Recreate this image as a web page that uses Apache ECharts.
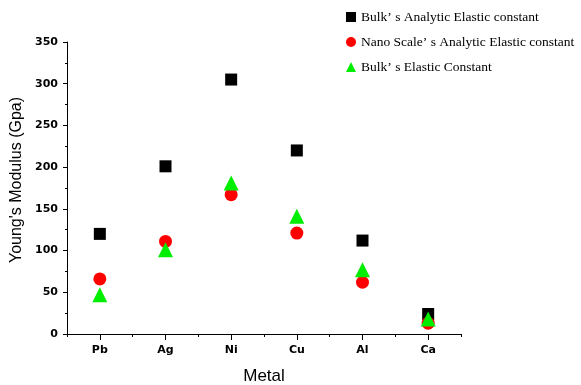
<!DOCTYPE html>
<html>
<head>
<meta charset="utf-8">
<script src="https://cdn.jsdelivr.net/npm/echarts@6/dist/echarts.min.js"></script>
<style>
  html, body { margin: 0; padding: 0; background: #fff; }
  #chart { width: 581px; height: 385px; }
</style>
</head>
<body>
<div id="chart"></div>
<script>
const metals = ['Pb', 'Ag', 'Ni', 'Cu', 'Al', 'Ca']
const bulkAnalytic = [120, 201, 305, 220, 112, 24]
const nanoAnalytic = [66, 111, 167, 121, 62, 13]
const bulkElastic = [47, 101, 181, 141, 77, 18]
const seriesNames = [
  'Bulk’ s Analytic Elastic constant',
  'Nano Scale’ s Analytic Elastic constant',
  'Bulk’ s Elastic Constant'
]

const chart = echarts.init(document.getElementById('chart'))

const axisFont = { fontFamily: 'DejaVu Sans', fontWeight: 'bold', fontSize: 11, color: '#000' }

chart.setOption({
  animation: false,
  legend: {
    orient: 'vertical',
    left: 341,
    top: 5,
    itemGap: 11,
    itemWidth: 10,
    itemHeight: 10,
    itemStyle: { opacity: 1 },
    textStyle: { fontFamily: 'Liberation Serif', fontSize: 13.5, color: '#000' },
    data: [
      { name: seriesNames[0], icon: 'rect' },
      { name: seriesNames[1], icon: 'circle' },
      { name: seriesNames[2], icon: 'triangle' }
    ]
  },
  grid: { left: 67, top: 42, right: 120, bottom: 51, outerBoundsMode: 'none' },
  xAxis: [
    {
      type: 'category',
      data: metals,
      name: 'Metal',
      nameLocation: 'middle',
      nameGap: 34,
      nameTextStyle: { fontFamily: 'Liberation Sans', fontSize: 17, color: '#000' },
      axisLine: { lineStyle: { color: '#000', width: 1 } },
      axisTick: { show: true, length: 3, lineStyle: { color: '#000' } },
      axisLabel: { ...axisFont, margin: 11 },
      splitLine: { show: false }
    },
    {
      type: 'category',
      data: metals,
      position: 'bottom',
      axisLine: { show: false },
      axisTick: { show: true, alignWithLabel: true, length: 6, lineStyle: { color: '#000' } },
      axisLabel: { show: false },
      splitLine: { show: false }
    }
  ],
  yAxis: {
    type: 'value',
    min: 0,
    max: 350,
    interval: 50,
    name: "Young's Modulus (Gpa)",
    nameLocation: 'middle',
    nameGap: 38,
    nameTextStyle: { fontFamily: 'Liberation Sans', fontSize: 16, color: '#000', padding: [0, 0, 0, 16] },
    axisLine: { show: true, lineStyle: { color: '#000', width: 1 } },
    axisTick: { show: true, length: 4, lineStyle: { color: '#000' } },
    minorTick: { show: true, splitNumber: 2, length: 2, lineStyle: { color: '#000' } },
    axisLabel: { ...axisFont, margin: 9 },
    splitLine: { show: false }
  },
  series: [
    {
      name: seriesNames[0],
      type: 'scatter',
      symbol: 'rect',
      symbolSize: 12,
      itemStyle: { color: '#000', opacity: 1 },
      data: bulkAnalytic
    },
    {
      name: seriesNames[1],
      type: 'scatter',
      symbol: 'circle',
      symbolSize: 13,
      itemStyle: { color: '#ff0000', opacity: 1 },
      data: nanoAnalytic
    },
    {
      name: seriesNames[2],
      type: 'scatter',
      symbol: 'triangle',
      symbolSize: 15,
      itemStyle: { color: '#00ee00', opacity: 1 },
      data: bulkElastic
    }
  ]
})
</script>
</body>
</html>
